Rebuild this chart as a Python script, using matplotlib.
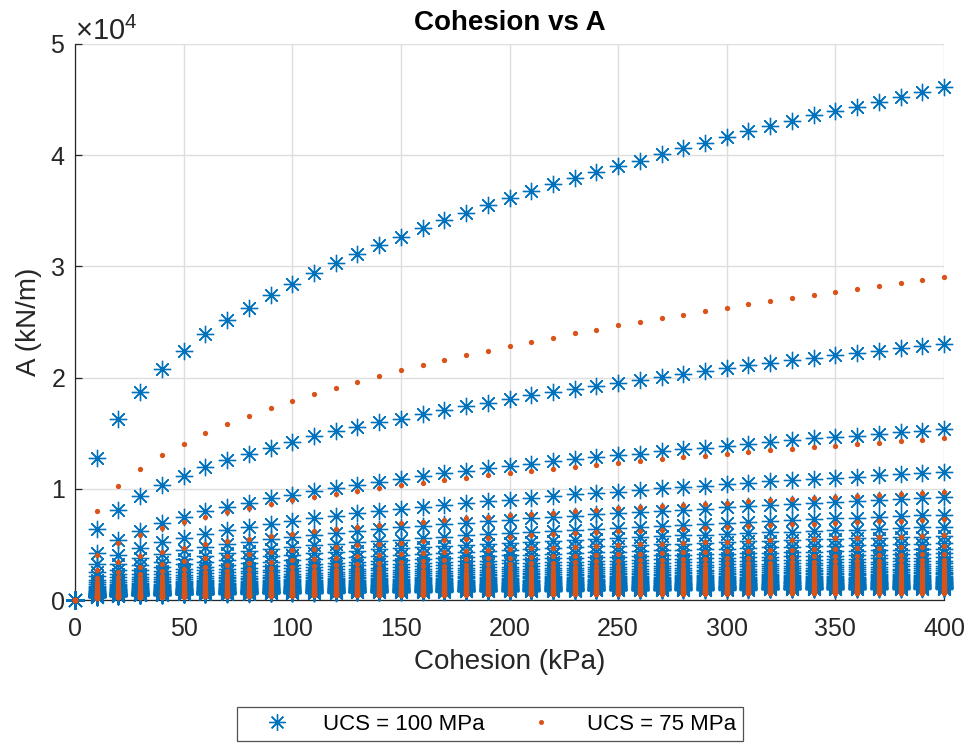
import matplotlib
matplotlib.use("Agg")
import matplotlib.pyplot as plt
from matplotlib.ticker import ScalarFormatter
import numpy as np

plt.rcParams['font.family'] = ['Liberation Sans', 'DejaVu Sans']
plt.rcParams['mathtext.fontset'] = 'custom'
plt.rcParams['mathtext.rm'] = 'Liberation Sans'
plt.rcParams['mathtext.it'] = 'Liberation Sans'

# ---- data ----
cohesion = [0, 10, 20, 30, 40, 50, 60, 70, 80, 90, 100, 110, 120, 130, 140, 150,
            160, 170, 180, 190, 200, 210, 220, 230, 240, 250, 260, 270, 280, 290,
            300, 310, 320, 330, 340, 350, 360, 370, 380, 390, 400]

ucs100_top = [0, 12810, 16250, 18730, 20740, 22350, 23880, 25160, 26270, 27410,
              28460, 29420, 30310, 31120, 31930, 32610, 33420, 34170, 34830, 35520,
              36110, 36800, 37400, 37950, 38510, 38990, 39500, 40150, 40640, 41140,
              41680, 42190, 42640, 43120, 43600, 44010, 44370, 44820, 45270, 45660,
              46110]

ucs75_top = [0, 8020, 10230, 11760, 13020, 14070, 14990, 15830, 16580, 17260,
             17930, 18520, 19090, 19630, 20140, 20650, 21100, 21570, 22020, 22410,
             22830, 23220, 23580, 23970, 24300, 24690, 24980, 25340, 25670, 25970,
             26300, 26600, 26900, 27170, 27470, 27740, 28010, 28280, 28550, 28790,
             29060]

# each family of curves: top curve divided by these factors
curve_divisors = [1, 2, 3, 4, 5, 6, 7, 8, 9, 10, 11, 12, 13, 14, 15, 16, 17, 18,
                  19, 20, 21, 22, 23, 24, 25, 26, 27, 28, 29, 30, 31, 32, 33, 34,
                  35, 36, 37, 38, 39, 40, 41, 42, 43, 44, 45]

x_ticks = [0, 50, 100, 150, 200, 250, 300, 350, 400]
y_ticks = [0, 10000, 20000, 30000, 40000, 50000]

BLUE = '#0072BD'
ORANGE = '#D95319'
DARK = '#262626'

fig = plt.figure(figsize=(9.7, 7.44), dpi=100)
ax = fig.add_axes([75/970, 1-600/744, (944-75)/970, (600-44)/744])

xs = np.array(cohesion, dtype=float)
b_top = np.array(ucs100_top, dtype=float)
o_top = np.array(ucs75_top, dtype=float)

bx = np.concatenate([xs for d in curve_divisors])
by = np.concatenate([b_top / d for d in curve_divisors])
ox = np.concatenate([xs for d in curve_divisors])
oy = np.concatenate([o_top / d for d in curve_divisors])

ax.plot(bx, by, linestyle='none', marker=(8, 2, 0), markersize=12.5,
        markeredgewidth=0.95, color=BLUE, clip_on=False, label='UCS = 100 MPa', zorder=3)
ax.plot(ox, oy, linestyle='none', marker='o', markersize=3.8,
        markeredgewidth=0, color=ORANGE, clip_on=False, label='UCS = 75 MPa', zorder=4)

ax.set_xlim(0, 400)
ax.set_ylim(0, 50000)
ax.set_xticks(x_ticks)
ax.set_yticks(y_ticks)

fmt = ScalarFormatter(useMathText=True)
fmt.set_powerlimits((0, 0))
ax.yaxis.set_major_formatter(fmt)
ax.yaxis.get_offset_text().set_fontsize(21)
ax.yaxis.get_offset_text().set_color(DARK)

ax.grid(True, color='#dedede', linewidth=1.0)
ax.set_axisbelow(True)
for s in ['top', 'right']:
    ax.spines[s].set_visible(False)
for s in ['left', 'bottom']:
    ax.spines[s].set_color(DARK)
    ax.spines[s].set_linewidth(0.9)

ax.tick_params(direction='in', length=5, width=0.9, colors=DARK, labelsize=18,
               labelcolor=DARK)
ax.tick_params(axis='x', pad=12)
ax.tick_params(axis='y', pad=7)

ax.set_xlabel('Cohesion (kPa)', fontsize=20, color=DARK, labelpad=6)
ax.set_ylabel('A (kN/m)', fontsize=20, color=DARK, labelpad=6)
ax.set_title('Cohesion vs A', fontsize=20, fontweight='bold', color='black', pad=10)

leg = fig.legend(loc='upper center', bbox_to_anchor=(0.505, 1-707/744), ncol=2,
                 fontsize=16, frameon=True, fancybox=False, edgecolor=DARK,
                 handlelength=3.0, handletextpad=0.6, columnspacing=1.0,
                 borderpad=0.3, borderaxespad=0.0, markerscale=0.95)
leg.get_frame().set_linewidth(0.9)
for t in leg.get_texts():
    t.set_color('black')

fig.savefig('out.png', dpi=100)
